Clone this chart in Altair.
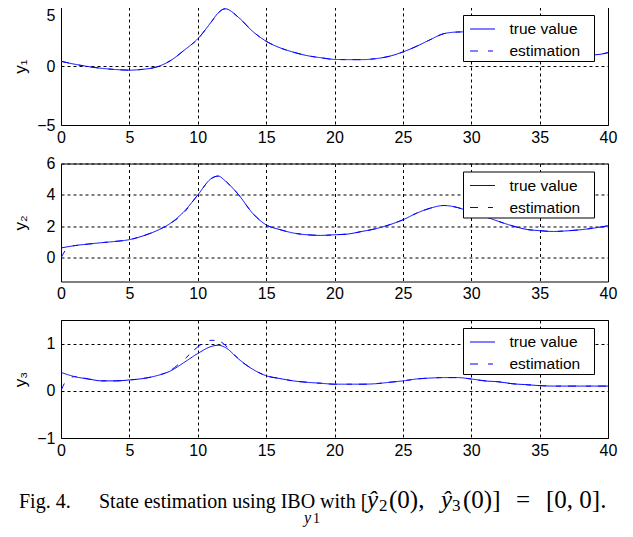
import altair as alt
import pandas as pd

SERIES = ["true value", "estimation"]
BLUE = "#0000ff"
X_TICKS = [0, 5, 10, 15, 20, 25, 30, 35, 40]

# time samples
T = [0, 1, 2, 3, 4, 5, 6, 7, 8, 9, 10, 11, 11.5, 12, 13, 14, 15, 16, 17, 18, 19, 20,
     21, 22, 23, 24, 25, 26, 27, 28, 29, 30, 31, 32, 33, 34, 35, 36, 37, 38, 39, 40]

Y1_TRUE = [0.40, 0.15, -0.05, -0.20, -0.30, -0.35, -0.28, -0.08, 0.45, 1.33, 2.30, 3.75, 4.50, 4.85,
           4.10, 2.95, 2.10, 1.55, 1.17, 0.88, 0.70, 0.56, 0.54, 0.54, 0.62, 0.82, 1.19, 1.67,
           2.23, 2.74, 2.88, 2.90, 2.85, 2.70, 2.45, 2.15, 1.80, 1.50, 1.25, 1.05, 0.95, 1.13]
Y1_EST = [0.40, 0.15, -0.05, -0.20, -0.30, -0.35, -0.28, -0.08, 0.45, 1.33, 2.30, 3.75, 4.50, 4.85,
          4.10, 2.95, 2.10, 1.55, 1.17, 0.88, 0.70, 0.56, 0.54, 0.54, 0.62, 0.82, 1.19, 1.67,
          2.23, 2.74, 2.88, 2.90, 2.85, 2.70, 2.45, 2.15, 1.80, 1.50, 1.25, 1.05, 0.95, 1.13]

Y2_TRUE = [0.63, 0.78, 0.88, 0.97, 1.05, 1.16, 1.40, 1.73, 2.20, 2.95, 4.00, 5.05, 5.20, 4.90,
           4.00, 2.85, 2.10, 1.80, 1.58, 1.47, 1.43, 1.47, 1.52, 1.68, 1.85, 2.10, 2.42, 2.84,
           3.16, 3.33, 3.20, 2.90, 2.63, 2.32, 2.04, 1.82, 1.73, 1.68, 1.72, 1.79, 1.90, 2.04]
T2_EST = [0, 0.6, 1, 2, 3, 4, 5, 6, 7, 8, 8.8, 10, 11, 11.5, 12, 13, 14, 15, 16, 17, 18, 19, 20,
          21, 22, 23, 24, 25, 26, 27, 28, 29, 30, 31, 32, 33, 34, 35, 36, 37, 38, 39, 40]
Y2_EST = [0.00, 0.72, 0.78, 0.88, 0.97, 1.05, 1.16, 1.40, 1.73, 2.20, 2.70, 4.00, 5.05, 5.20, 4.90,
          4.00, 2.85, 2.10, 1.80, 1.58, 1.47, 1.43, 1.47, 1.52, 1.68, 1.85, 2.10, 2.42, 2.84,
          3.16, 3.33, 3.20, 2.90, 2.63, 2.32, 2.04, 1.82, 1.73, 1.68, 1.72, 1.79, 1.90, 2.04]

Y3_TRUE = [0.39, 0.30, 0.25, 0.21, 0.21, 0.23, 0.26, 0.32, 0.42, 0.60, 0.79, 0.94, 0.965, 0.92,
           0.67, 0.46, 0.32, 0.26, 0.21, 0.18, 0.16, 0.14, 0.14, 0.14, 0.15, 0.18, 0.21, 0.25,
           0.27, 0.28, 0.28, 0.25, 0.21, 0.19, 0.15, 0.13, 0.11, 0.10, 0.10, 0.10, 0.10, 0.10]
T3_EST = [0, 0.4, 1, 2, 3, 4, 5, 6, 7, 8, 8.5, 9, 9.5, 10, 10.5, 11, 11.5, 12, 12.5, 13, 14, 15,
          16, 17, 18, 19, 20, 21, 22, 23, 24, 25, 26, 27, 28, 29, 30, 31, 32, 33, 34, 35, 36,
          37, 38, 39, 40]
Y3_EST = [0.00, 0.22, 0.30, 0.25, 0.21, 0.21, 0.23, 0.26, 0.32, 0.43, 0.54, 0.66, 0.80, 0.93,
          1.02, 1.07, 1.06, 0.97, 0.82, 0.67, 0.46, 0.32, 0.26, 0.21, 0.18, 0.16, 0.14, 0.14,
          0.14, 0.15, 0.18, 0.21, 0.25, 0.27, 0.28, 0.28, 0.25, 0.21, 0.19, 0.15, 0.13, 0.11,
          0.10, 0.10, 0.10, 0.10, 0.10]

W, H = 547, 118


def make_df(t_true, v_true, t_est, v_est, key):
    return pd.DataFrame({
        "t": list(t_true) + list(t_est),
        "v": list(v_true) + list(v_est),
        key: [SERIES[0]] * len(t_true) + [SERIES[1]] * len(t_est),
    })


def legend():
    return alt.Legend(
        title=None, orient="none", legendX=402, legendY=8,
        fillColor="white", strokeColor="black", padding=1,
        symbolType="M-1,0H1", symbolSize=625, symbolStrokeWidth=1, symbolOffset=5.5,
        symbolStrokeColor=BLUE, symbolFillColor=BLUE,
        rowPadding=-7, labelOffset=14, labelFont="Liberation Sans", labelFontSize=15.5,
        labelColor="black", labelBaseline="middle",
        labelExpr="datum.label + '\u2800'",
    )


def panel(df, key, ydom, yvals, ytitle, top_flush=False):
    lb = {"condition": {"test": "datum.value == %s" % ydom[1],
                        "value": "top" if top_flush else "middle"},
          "value": "middle"}
    yaxis = alt.Axis(values=yvals, title=ytitle, titleX=-41, titleY=H / 2, titleAngle=270,
                     titleAlign="center", titleBaseline="middle", labelPadding=6,
                     labelBaseline=lb, labelFlush=False)
    xaxis = alt.Axis(values=X_TICKS, title=None, labelPadding=4, labelFlush=False)
    return alt.Chart(df).mark_line(strokeWidth=1, interpolate="monotone", clip=True).encode(
        x=alt.X("t:Q", scale=alt.Scale(domain=[0, 40], nice=False, zero=False), axis=xaxis),
        y=alt.Y("v:Q", scale=alt.Scale(domain=ydom, nice=False, zero=False), axis=yaxis),
        color=alt.Color(key + ":N", scale=alt.Scale(domain=SERIES, range=[BLUE, BLUE]),
                        legend=legend()),
        strokeDash=alt.StrokeDash(key + ":N", scale=alt.Scale(domain=SERIES,
                                  range=[[1, 0], [8, 10, 5, 7]]), legend=legend()),
    )


def txt(s, x, y, size, style="normal"):
    return alt.Chart(alt.InlineData(values=[{}])).mark_text(
        text=s, align="left", baseline="alphabetic", font="Liberation Serif",
        fontSize=size, fontStyle=style, color="black"
    ).encode(x=alt.value(x), y=alt.value(y))


p1 = panel(make_df(T, Y1_TRUE, T, Y1_EST, "s1"), "s1", [-5, 5], [-5, 0, 5], "y₁",
           top_flush=True).properties(width=W, height=H)
p2 = panel(make_df(T, Y2_TRUE, T2_EST, Y2_EST, "s2"), "s2", [-1.5, 6], [0, 2, 4, 6],
           "y₂").properties(width=W, height=H)

CY = 188
caption = [
    txt("Fig. 4.", -42, CY, 20),
    txt("State estimation using IBO with [", 38, CY, 20),
    txt("ŷ", 306, CY, 25, "italic"),
    txt("2", 318, CY + 3, 17),
    txt("(0),", 328, CY, 25),
    txt("ŷ", 380, CY, 25, "italic"),
    txt("3", 391, CY + 3, 17),
    txt("(0)]", 402, CY, 25),
    txt("=", 455, CY, 25),
    txt("[0, 0].", 485, CY, 25),
    txt("y", 243, CY + 15, 16, "italic"),
    txt("1", 252, CY + 15, 14),
]
p3 = alt.layer(
    panel(make_df(T, Y3_TRUE, T3_EST, Y3_EST, "s3"), "s3", [-1, 1.5], [-1, 0, 1], "y₃"),
    *caption
).properties(width=W, height=H)

chart = alt.vconcat(p1, p2, p3, spacing=38.5, bounds="flush").resolve_scale(
    x="independent", y="independent", color="independent", strokeDash="independent"
).resolve_legend(color="independent", strokeDash="independent").properties(
    padding={"left": 2, "top": -2, "right": 0, "bottom": 0}, background="white"
).configure_view(
    stroke="black", strokeWidth=1
).configure_legend(
    symbolStrokeColor=BLUE, symbolBaseStrokeColor=BLUE
).configure_axis(
    labelFont="Liberation Sans", labelFontSize=16, labelColor="black",
    titleFont="Liberation Sans, DejaVu Sans", titleFontSize=17, titleFontWeight="normal",
    titleColor="black", grid=True, gridColor="black", gridDash=[3, 3], gridOpacity=1,
    gridWidth=1, domain=False, ticks=False
)

chart.save("out.html", embed_options={"renderer": "svg", "actions": False})
